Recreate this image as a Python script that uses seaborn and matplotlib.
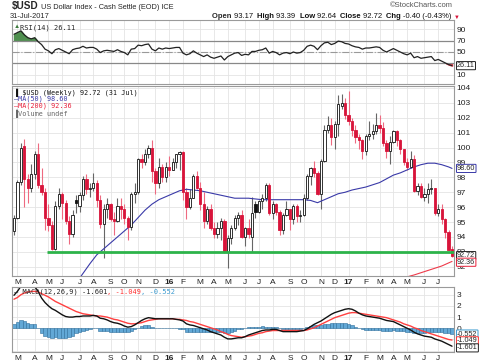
import numpy as np
import pandas as pd
import matplotlib
matplotlib.use("Agg")
import matplotlib.pyplot as plt
import seaborn as sns

# weekly bars, Feb 2015 - Jul 2017
weeks = pd.date_range("2015-02-23", "2017-07-31", freq="W-MON")

opens = [94.4, 95.3, 97.7, 100.1, 97.9, 97.3, 98.2, 99.6, 97.5, 97.0, 95.3, 94.8, 93.2, 96.1, 96.9, 96.3,
         95.1, 94.2, 96.5, 96.1, 96.8, 97.9, 97.2, 97.3, 97.6, 96.5, 94.9, 95.9, 96.2, 95.2, 95.1, 96.1,
         95.9, 95.3, 94.7, 96.9, 97.0, 99.2, 99.0, 99.6, 100.0, 98.4, 97.6, 98.7, 98.0, 98.7, 98.5, 99.0,
         99.6, 99.7, 97.0, 96.0, 96.6, 98.1, 97.3, 96.2, 95.1, 95.9, 94.6, 94.2, 94.6, 95.1, 93.0, 93.9,
         94.6, 95.3, 95.5, 94.0, 94.6, 94.0, 96.2, 95.7, 96.4, 96.6, 97.5, 95.6, 96.2, 95.7, 94.5, 95.5,
         95.9, 95.2, 96.1, 95.4, 95.5, 96.6, 98.1, 98.6, 98.3, 96.9, 99.1, 101.2, 101.5, 100.7, 101.6, 102.8,
         103.0, 102.2, 101.8, 101.2, 100.7, 100.5, 99.8, 100.8, 100.9, 101.1, 101.5, 101.3, 100.3, 99.8, 100.4, 101.1,
         100.5, 99.9, 99.0, 98.7, 99.2, 97.1, 97.4, 96.7, 96.9, 97.2, 97.3, 95.6, 95.9, 95.2, 94.3, 93.17]
highs = [95.5, 97.8, 100.3, 100.6, 98.2, 98.9, 99.8, 100.3, 98.6, 97.3, 96.2, 95.1, 96.4, 97.3, 97.0, 96.5,
         95.4, 95.8, 96.8, 97.0, 98.1, 98.2, 97.6, 98.3, 97.8, 96.8, 96.2, 96.6, 96.3, 95.7, 96.6, 96.6,
         96.2, 95.4, 97.0, 97.6, 99.3, 99.6, 99.9, 100.2, 100.5, 98.6, 99.3, 98.9, 99.0, 99.4, 99.3, 99.6,
         99.8, 99.8, 97.3, 97.2, 98.2, 98.4, 97.7, 97.0, 96.1, 96.2, 95.0, 95.0, 95.3, 95.2, 94.1, 94.8,
         95.5, 95.7, 95.8, 94.7, 95.2, 96.7, 96.4, 96.5, 96.9, 97.6, 97.6, 96.4, 96.3, 95.8, 95.6, 96.4,
         95.9, 96.2, 96.2, 95.8, 96.9, 98.2, 98.7, 99.1, 98.4, 99.2, 101.5, 102.1, 102.0, 101.8, 103.5, 103.6,
         103.3, 103.8, 102.0, 101.5, 100.9, 100.6, 100.9, 101.8, 101.6, 102.3, 102.2, 101.7, 100.5, 100.8, 101.2, 101.2,
         100.6, 99.9, 99.3, 99.8, 99.5, 97.6, 97.6, 97.3, 97.6, 97.9, 97.3, 96.2, 96.2, 95.3, 94.5, 93.39]
lows = [94.1, 95.2, 97.5, 96.0, 96.3, 97.0, 97.9, 97.3, 96.8, 94.5, 94.4, 93.1, 93.1, 95.9, 95.2, 94.9,
        93.5, 94.0, 95.6, 95.7, 96.5, 96.9, 96.7, 97.1, 96.0, 94.6, 92.6, 95.3, 95.1, 94.1, 95.0, 95.2,
        94.9, 93.8, 94.5, 96.3, 96.9, 98.6, 98.8, 99.3, 97.7, 96.9, 97.3, 97.7, 97.7, 98.1, 98.5, 98.6,
        98.5, 96.5, 95.2, 95.9, 96.6, 97.2, 95.8, 94.6, 94.9, 94.5, 93.9, 93.9, 93.8, 92.9, 91.9, 93.5,
        94.5, 94.8, 93.9, 93.4, 93.9, 93.0, 95.3, 95.6, 95.9, 96.4, 95.5, 95.2, 95.5, 94.1, 94.2, 95.4,
        94.5, 94.9, 95.0, 95.0, 95.4, 96.5, 97.5, 98.0, 96.8, 95.9, 99.0, 101.0, 100.2, 99.9, 100.8, 102.6,
        101.9, 101.5, 100.8, 100.3, 99.9, 99.2, 99.5, 100.5, 100.6, 100.9, 101.0, 100.1, 99.3, 98.9, 100.3, 100.1,
        99.6, 98.8, 98.5, 98.6, 97.0, 96.8, 96.6, 96.4, 96.3, 96.9, 95.5, 95.4, 94.9, 93.9, 93.1, 92.64]
closes = [95.3, 97.7, 100.0, 97.9, 97.3, 98.2, 99.6, 97.5, 97.0, 95.3, 94.8, 93.2, 96.1, 96.9, 96.3, 95.1,
          94.2, 95.5, 96.3, 96.8, 97.9, 97.2, 97.3, 97.6, 96.5, 94.9, 95.9, 96.2, 95.2, 95.1, 96.1, 95.9,
          95.3, 94.7, 96.9, 97.0, 99.2, 99.0, 99.6, 100.0, 98.4, 97.6, 98.7, 98.0, 98.7, 98.5, 99.0, 99.6,
          99.7, 97.0, 96.0, 96.6, 98.1, 97.3, 96.2, 95.1, 95.9, 94.6, 94.2, 94.6, 95.1, 93.0, 93.9, 94.6,
          95.3, 95.5, 94.0, 94.6, 94.2, 95.6, 95.7, 96.4, 96.6, 97.5, 95.6, 96.2, 95.7, 94.5, 95.5, 95.9,
          95.2, 96.1, 95.4, 95.5, 96.6, 98.1, 98.6, 98.3, 96.9, 99.1, 101.2, 101.5, 100.7, 101.6, 102.9, 103.0,
          102.2, 101.8, 101.2, 100.7, 100.5, 99.8, 100.8, 100.9, 101.1, 101.5, 101.3, 100.3, 99.8, 100.4, 101.1, 100.5,
          99.9, 99.0, 98.7, 99.2, 97.1, 97.4, 96.7, 96.9, 97.2, 97.3, 95.6, 95.9, 95.2, 94.3, 93.12, 92.72]

rsi = [81, 84, 87, 80, 75, 73, 75, 68, 63, 55, 52, 47, 54, 56, 53, 50,
       47, 54, 56, 57, 60, 57, 58, 58, 55, 49, 52, 53, 52, 51, 54, 51,
       49, 45, 55, 56, 62, 61, 63, 64, 55, 52, 57, 55, 57, 56, 57, 58,
       58, 48, 45, 47, 52, 48, 45, 42, 45, 41, 39, 41, 43, 36, 42, 45,
       48, 49, 44, 46, 45, 51, 51, 53, 54, 57, 48, 51, 49, 45, 48, 49,
       47, 50, 48, 49, 53, 60, 62, 60, 54, 61, 66, 67, 63, 65, 69, 68,
       65, 64, 61, 59, 58, 55, 57, 57, 58, 59, 58, 53, 50, 53, 56, 53,
       50, 47, 45, 48, 40, 42, 39, 40, 41, 42, 35, 37, 34, 31, 28, 26.11]

macd = [2.95, 3.3, 3.75, 3.8, 3.75, 3.7, 3.72, 3.3, 2.7, 2.3, 2.0, 1.75, 1.6, 1.4, 1.2, 1.05,
        1.0, 1.0, 1.05, 1.05, 1.1, 1.1, 1.1, 1.15, 1.1, 0.9, 0.85, 0.75, 0.6, 0.5, 0.45, 0.35,
        0.2, 0.1, 0.15, 0.3, 0.5, 0.7, 0.85, 0.95, 0.9, 0.85, 0.85, 0.85, 0.85, 0.85, 0.85, 0.8,
        0.75, 0.65, 0.4, 0.3, 0.25, 0.15, 0.05, -0.05, -0.15, -0.3, -0.4, -0.5, -0.6, -0.8, -0.95, -0.95,
        -0.9, -0.85, -0.85, -0.75, -0.6, -0.5, -0.4, -0.3, -0.2, -0.15, -0.15, -0.1, -0.1, -0.2, -0.3, -0.3,
        -0.3, -0.3, -0.3, -0.25, -0.2, -0.05, 0.15, 0.35, 0.5, 0.65, 0.85, 1.05, 1.25, 1.4, 1.5, 1.6,
        1.7, 1.75, 1.7, 1.55, 1.35, 1.2, 1.1, 1.05, 1.0, 0.95, 0.9, 0.8, 0.7, 0.65, 0.6, 0.45,
        0.3, 0.15, 0.0, -0.15, -0.35, -0.5, -0.6, -0.7, -0.75, -0.8, -0.95, -1.05, -1.15, -1.3, -1.45, -1.601]
signal = [2.6, 2.75, 3.0, 3.15, 3.25, 3.3, 3.3, 3.25, 3.1, 2.95, 2.8, 2.6, 2.4, 2.25, 2.1, 1.95,
          1.8, 1.65, 1.5, 1.4, 1.3, 1.25, 1.2, 1.15, 1.1, 1.1, 1.05, 1.0, 0.9, 0.8, 0.75, 0.65,
          0.55, 0.45, 0.4, 0.4, 0.45, 0.5, 0.6, 0.7, 0.75, 0.8, 0.85, 0.85, 0.85, 0.85, 0.85, 0.8,
          0.8, 0.75, 0.7, 0.6, 0.55, 0.45, 0.35, 0.25, 0.15, 0.05, -0.05, -0.15, -0.3, -0.4, -0.55, -0.65,
          -0.7, -0.75, -0.8, -0.75, -0.7, -0.65, -0.55, -0.45, -0.4, -0.3, -0.25, -0.2, -0.2, -0.2, -0.2, -0.2,
          -0.2, -0.2, -0.2, -0.2, -0.2, -0.15, -0.05, 0.05, 0.2, 0.35, 0.5, 0.65, 0.8, 0.95, 1.05, 1.15,
          1.25, 1.35, 1.4, 1.4, 1.35, 1.3, 1.25, 1.2, 1.15, 1.1, 1.05, 1.0, 0.95, 0.85, 0.75, 0.65,
          0.55, 0.4, 0.3, 0.2, 0.05, -0.05, -0.2, -0.3, -0.4, -0.5, -0.6, -0.7, -0.8, -0.9, -1.0, -1.049]

ma50_weeks = list(weeks[18:128:2]) + [weeks[-1]]
ma50 = [90.9, 91.55, 92.2, 92.8, 93.2, 93.6, 94.0, 94.4, 94.8, 95.3, 95.8, 96.2, 96.5, 96.7,
        96.9, 97.1, 97.2, 97.15, 97.1, 97.0, 96.9, 96.8, 96.7, 96.6, 96.6, 96.6, 96.55, 96.5,
        96.5, 96.5, 96.5, 96.5, 96.5, 96.5, 96.45, 96.3, 96.5, 96.7, 96.9, 97.0, 97.15, 97.25,
        97.35, 97.5, 97.65, 97.9, 98.15, 98.3, 98.5, 98.7, 98.85, 98.95, 98.95, 98.85, 98.7, 98.60]
ma200_weeks = pd.to_datetime(["2017-04-17", "2017-05-15", "2017-06-12", "2017-07-10", "2017-07-31"])
ma200 = [91.2, 91.45, 91.75, 92.05, 92.36]

support_level = 93.0
support_start = pd.Timestamp("2015-05-01")

RED = "#d8143a"
BLUE = "#3a3aa8"
GRID = "#e4e4e4"

sns.set_style("white")
plt.rcParams["font.family"] = ["Liberation Sans", "DejaVu Sans"]
MONO = "DejaVu Sans Mono"

df = pd.DataFrame({"date": weeks, "open": opens, "high": highs, "low": lows, "close": closes,
                   "rsi": rsi, "macd": macd, "signal": signal})
df["hist"] = df["macd"] - df["signal"]

fig = plt.figure(figsize=(4.8, 3.63), dpi=100)


def panel(top, bottom):
    return fig.add_axes([12 / 480, 1 - bottom / 363, 442 / 480, (bottom - top) / 363])


ax_r = panel(20, 84)
ax_p = panel(86, 276)
ax_m = panel(287, 352)

x_left, x_right = pd.Timestamp("2015-02-19"), pd.Timestamp("2017-08-04")

# month ticks at first bar of each month
firsts = [d for d in weeks if d.day <= 7]
mlabels = [str(d.year)[2:] if d.month == 1 else d.strftime("%b")[0] for d in firsts]

for ax in (ax_r, ax_p, ax_m):
    ax.set_xlim(x_left, x_right)
    ax.set_xticks(firsts)
    ax.yaxis.tick_right()
    ax.tick_params(length=0, labelsize=6, pad=2, colors="#222222")
    ax.grid(True, color=GRID, lw=0.6)
    ax.set_axisbelow(True)
    for s in ax.spines.values():
        s.set_color("#9a9a9a")
        s.set_linewidth(0.8)

ax_r.set_xticklabels([])
for ax in (ax_p, ax_m):
    ax.set_xticklabels(mlabels)
    for t in ax.get_xticklabels():
        if t.get_text().isdigit():
            t.set_fontweight("bold")

# ---- RSI panel
ax_r.set_ylim(-6, 106)
ax_r.set_yticks([10, 30, 50, 70, 90])
ax_r.set_yticklabels(["10", "", "50", "70", "90"])
ax_r.axhline(70, color="#888888", lw=0.9)
ax_r.axhline(30, color="#888888", lw=0.9)
ax_r.axhline(50, color="#999999", lw=0.8, ls="-.")
r = df["rsi"].to_numpy()
ax_r.fill_between(df["date"], r, 70, where=r > 70, interpolate=True, color="#4f8f4f")
ax_r.fill_between(df["date"], r, 30, where=r < 30, interpolate=True, color="#e04050")
sns.lineplot(data=df, x="date", y="rsi", ax=ax_r, color="#222222", lw=0.9)
ax_r.set_xlabel("")
ax_r.set_ylabel("")
ax_r.text(0.005, 0.93, "\u25b2", transform=ax_r.transAxes, fontsize=4.5, color="#3d7a3d", va="top")
ax_r.text(0.019, 0.93, "RSI(14) 26.11", transform=ax_r.transAxes, fontsize=5, family=MONO, va="top")

# ---- price panel
ax_p.set_ylim(91.38, 104.13)
ax_p.set_yticks(range(92, 105))
body_w = pd.Timedelta(days=4.6)
prev = [df["open"].iloc[0]] + list(df["close"].iloc[:-1])
for (d, o, h, l, c), pc in zip(df[["date", "open", "high", "low", "close"]].itertuples(index=False), prev):
    col = "#111111" if c >= pc else RED
    wcol = "#666666" if c >= pc else "#ee6a80"
    ax_p.vlines(d, l, h, color=wcol, lw=0.8, zorder=2)
    ax_p.bar(d, max(abs(c - o), 0.05), bottom=min(o, c), width=body_w,
             color="white" if c > o else col, edgecolor=col, lw=0.6, zorder=3)

sns.lineplot(x=ma50_weeks, y=ma50, ax=ax_p, color=BLUE, lw=0.8)
sns.lineplot(x=ma200_weeks, y=ma200, ax=ax_p, color="#ee3a4a", lw=0.8)
ax_p.hlines(support_level, support_start, x_right, color="#2db34a", lw=2, zorder=4)
ax_p.set_xlabel("")
ax_p.set_ylabel("")

leg = [("\u2590 $USD (Weekly) 92.72 (31 Jul)", "#111111"),
       ("\u2014MA(50) 98.60", BLUE),
       ("\u2014MA(200) 92.36", "#e8203a"),
       ("\u2590Volume undef", "#666666")]
for k, (s, c) in enumerate(leg):
    ax_p.text(0.004, 0.988 - k * 0.037, s, transform=ax_p.transAxes, fontsize=4.9,
              family=MONO, color=c, va="top")

# ---- MACD panel
ax_m.set_ylim(-2.12, 3.69)
ax_m.set_yticks([-2, -1, 0, 1, 2, 3])
ax_m.set_yticklabels(["", "", "0", "1", "2", "3"])
ax_m.bar(df["date"], df["hist"], width=pd.Timedelta(days=7), color="#62a8d6",
         edgecolor="#2f6f9c", lw=0.4, zorder=2)
sns.lineplot(data=df, x="date", y="signal", ax=ax_m, color="#ff4040", lw=1.0)
sns.lineplot(data=df, x="date", y="macd", ax=ax_m, color="#111111", lw=1.0)
ax_m.set_xlabel("")
ax_m.set_ylabel("")

t = ax_m.text(0.004, 0.97, "\u2014 MACD(12,26,9) -1.601", transform=ax_m.transAxes, fontsize=5,
              family=MONO, va="top")
t = ax_m.annotate(", -1.049", xy=(1, 0), xycoords=t, va="bottom", fontsize=5, family=MONO,
                  color="#ff3030")
ax_m.annotate(", -0.552", xy=(1, 0), xycoords=t, va="bottom", fontsize=5, family=MONO,
              color="#3a9ad0")


# ---- value tags on right axis (dy nudges a tag down so stacked tags don't collide)
def tag(ax, v, txt, edge, dy=0.0):
    ax.annotate(txt, xy=(1, v), xycoords=ax.get_yaxis_transform(), xytext=(2.2, -dy),
                textcoords="offset points", va="center", ha="left", fontsize=5.2,
                annotation_clip=False,
                bbox=dict(boxstyle="round,pad=0.08", fc="white", ec=edge, lw=0.7))


tag(ax_r, 26.11, "26.11", "#222222")
tag(ax_p, 98.60, "98.60", BLUE)
tag(ax_p, 92.72, "92.72", "#222222", dy=-0.3)
tag(ax_p, 92.36, "92.36", "#e8203a", dy=0.6)
tag(ax_m, -0.552, "-0.552", "#3a9ad0", dy=-0.3)
tag(ax_m, -1.049, "-1.049", "#ff3030", dy=0.6)
tag(ax_m, -1.601, "-1.601", "#222222", dy=1.2)

# ---- header
h = fig.text(12 / 480, 1 - 9 / 363, "$USD", fontsize=7.2, fontweight="bold", va="baseline")
ax_r.annotate(" US Dollar Index - Cash Settle (EOD) ICE", xy=(1, 0), xycoords=h, va="bottom",
              fontsize=5.3, annotation_clip=False)
fig.text(10 / 480, 1 - 18 / 363, "31-Jul-2017", fontsize=5.4, va="baseline")
fig.text(453 / 480, 1 - 7 / 363, "\u00a9StockCharts.com", fontsize=5.4, ha="right",
         va="baseline", color="#555555")

parts = [("Open ", True, "#111111"), ("93.17  ", False, "#111111"), ("High ", True, "#111111"),
         ("93.39  ", False, "#111111"), ("Low ", True, "#111111"), ("92.64  ", False, "#111111"),
         ("Close ", True, "#111111"), ("92.72  ", False, "#111111"), ("Chg ", True, "#111111"),
         ("-0.40 (-0.43%) ", False, "#111111"), ("\u25bc", False, RED)]
t = fig.text(212 / 480, 1 - 18 / 363, parts[0][0], fontsize=5.5, fontweight="bold", va="baseline")
for s, b, c in parts[1:]:
    t = ax_r.annotate(s, xy=(1, 0), xycoords=t, va="bottom", fontsize=5.5 if s != "\u25bc" else 4.2,
                      fontweight="bold" if b else "normal", color=c, annotation_clip=False)

fig.savefig("out.png", dpi=100)
